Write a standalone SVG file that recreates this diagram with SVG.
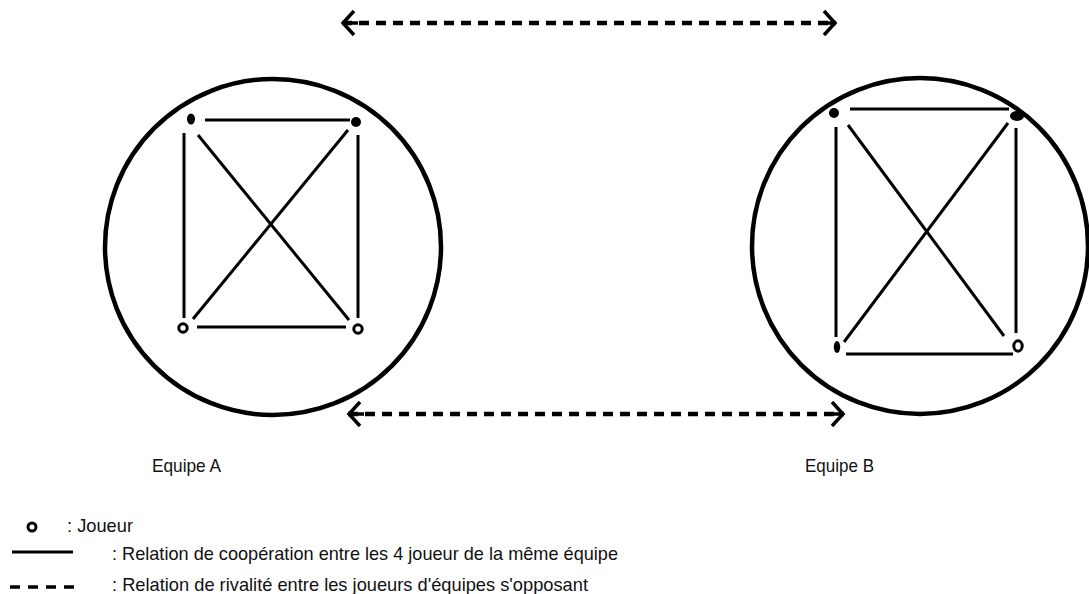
<svg xmlns="http://www.w3.org/2000/svg" width="1089" height="594" viewBox="0 0 1089 594">
<defs>
<style>
.team{fill:none;stroke:#000;stroke-width:4.5}
.edge{stroke:#000;stroke-width:3;stroke-linecap:butt;fill:none}
.rival{stroke:#000;stroke-width:4.5;stroke-dasharray:10 7;fill:none}
.dot{fill:#000}
.ring{fill:#fff;stroke:#000;stroke-width:3}
.lbl{font-family:"Liberation Sans",Arial,sans-serif;font-size:19px;fill:#111}
</style>
<marker id="head" markerUnits="userSpaceOnUse" viewBox="0 0 20 28" refX="18" refY="14" markerWidth="20" markerHeight="28" orient="auto-start-reverse">
<path d="M6,2 L17,14 L6,26 M17,14 L2,14" fill="none" stroke="#000" stroke-width="3.5"/>
</marker>
</defs>
<rect width="1089" height="594" fill="#fff"/>

<g id="connectors">
<line class="rival" x1="342" y1="23" x2="836" y2="23" marker-start="url(#head)" marker-end="url(#head)"/>
<line class="rival" x1="348" y1="414" x2="844" y2="414" marker-start="url(#head)" marker-end="url(#head)"/>
</g>

<g id="equipe-a">
<circle class="team" cx="273" cy="247" r="168"/>
<g class="edges">
<line class="edge" x1="205" y1="120" x2="350" y2="120"/>
<line class="edge" x1="184" y1="133" x2="184" y2="318"/>
<line class="edge" x1="358" y1="135" x2="358" y2="318"/>
<line class="edge" x1="197" y1="327" x2="346" y2="327"/>
<line class="edge" x1="198" y1="135" x2="349" y2="320"/>
<line class="edge" x1="348" y1="130" x2="193" y2="319"/>
</g>
<ellipse class="dot" cx="191" cy="119" rx="4" ry="5.5"/>
<circle class="dot" cx="356" cy="122" r="5"/>
<circle class="ring" cx="183" cy="328" r="4.2"/>
<circle class="ring" cx="358" cy="329" r="4.2"/>
<text class="lbl" x="152" y="472" textLength="69" lengthAdjust="spacingAndGlyphs">Equipe A</text>
</g>

<g id="equipe-b">
<circle class="team" cx="920" cy="246" r="168"/>
<g class="edges">
<line class="edge" x1="850" y1="109" x2="1009" y2="109"/>
<line class="edge" x1="836" y1="127" x2="836" y2="337"/>
<line class="edge" x1="1016" y1="128" x2="1016" y2="333"/>
<line class="edge" x1="846" y1="354" x2="1013" y2="354"/>
<line class="edge" x1="848" y1="125" x2="1004" y2="336"/>
<line class="edge" x1="1008" y1="123" x2="844" y2="342"/>
</g>
<circle class="dot" cx="834" cy="113" r="5"/>
<ellipse class="dot" cx="1017" cy="116" rx="7" ry="5"/>
<ellipse class="dot" cx="837" cy="347" rx="3.2" ry="6"/>
<ellipse class="ring" cx="1018" cy="346" rx="4.2" ry="5.2"/>
<text class="lbl" x="805" y="472" textLength="69" lengthAdjust="spacingAndGlyphs">Equipe B</text>
</g>

<g id="legende">
<circle class="ring" cx="32" cy="527" r="4"/>
<text class="lbl" x="67" y="532" textLength="66" lengthAdjust="spacingAndGlyphs">: Joueur</text>
<line x1="12" y1="552" x2="73" y2="552" stroke="#000" stroke-width="3"/>
<text class="lbl" x="112" y="560" textLength="506" lengthAdjust="spacingAndGlyphs">: Relation de coopération entre les 4 joueur de la même équipe</text>
<line x1="10" y1="587" x2="77" y2="587" stroke="#000" stroke-width="3.5" stroke-dasharray="10 8"/>
<text class="lbl" x="112" y="591" textLength="476" lengthAdjust="spacingAndGlyphs">: Relation de rivalité entre les joueurs d'équipes s'opposant</text>
</g>
</svg>
